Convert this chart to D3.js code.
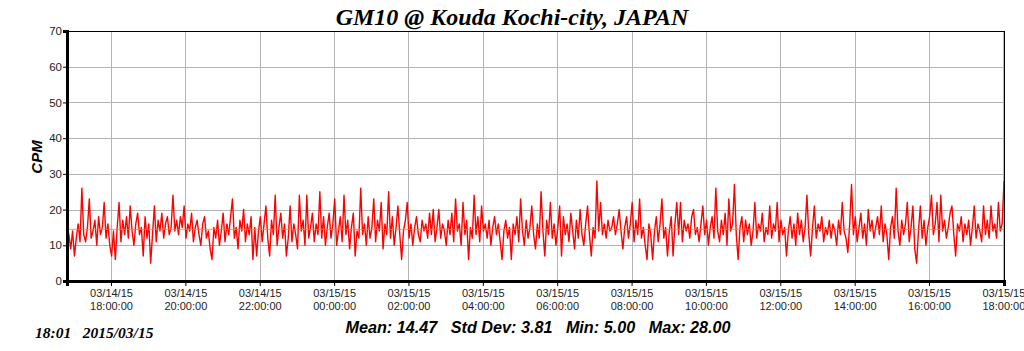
<!DOCTYPE html>
<html>
<head>
<meta charset="utf-8">
<script src="https://cdn.jsdelivr.net/npm/d3@7"></script>
<style>
  html, body { margin: 0; padding: 0; background: #fff; }
  svg { display: block; }
</style>
</head>
<body>
<svg id="chart" width="1024" height="351"></svg>
<script>
// readings every 3 minutes, starting 03/14/15 16:49
const startTime = new Date(2015, 2, 14, 16, 49);
const endTime = new Date(2015, 2, 15, 18, 1);
const stepMinutes = 3;
const cpm = [
  15, 13, 9, 14, 7, 12, 16, 11, 26, 13, 11, 15, 23, 12, 14, 17, 10, 18, 13, 15,
  22, 12, 16, 10, 7, 14, 6, 15, 22, 11, 17, 13, 18, 12, 21, 14, 10, 16, 19, 13,
  15, 7, 18, 12, 16, 5, 13, 21, 11, 17, 14, 19, 12, 16, 18, 13, 15, 24, 14, 17,
  13, 18, 15, 21, 12, 16, 14, 19, 11, 15, 17, 13, 10, 16, 18, 12, 14, 9, 6, 15,
  12, 17, 10, 14, 19, 11, 16, 13, 18, 23, 12, 15, 9, 17, 14, 20, 11, 16, 13, 18,
  6, 15, 7, 14, 18, 11, 16, 21, 12, 7, 17, 13, 24, 10, 15, 19, 12, 16, 7, 12,
  21, 11, 16, 13, 9, 24, 14, 17, 10, 24, 12, 15, 19, 11, 16, 13, 25, 12, 18, 10,
  15, 19, 12, 16, 23, 10, 14, 18, 11, 24, 13, 17, 9, 15, 19, 7, 14, 12, 26, 13,
  16, 10, 18, 12, 15, 23, 11, 17, 14, 22, 9, 16, 13, 25, 12, 18, 10, 15, 21, 13,
  6, 14, 17, 22, 12, 16, 10, 15, 18, 13, 11, 17, 14, 16, 12, 19, 13, 20, 11, 15,
  20, 12, 16, 14, 10, 17, 13, 19, 11, 23, 14, 16, 10, 22, 13, 17, 6, 15, 12, 24,
  13, 18, 11, 21, 14, 16, 12, 17, 10, 15, 18, 13, 16, 11, 6, 14, 17, 12, 15, 6,
  16, 13, 18, 11, 23, 14, 10, 17, 12, 15, 21, 13, 9, 16, 12, 25, 14, 7, 17, 13,
  22, 12, 16, 10, 15, 21, 7, 18, 13, 16, 11, 19, 14, 9, 17, 12, 20, 13, 10, 16,
  21, 13, 7, 15, 12, 28, 14, 22, 13, 16, 12, 17, 14, 15, 18, 13, 16, 20, 14, 9,
  15, 18, 12, 16, 22, 11, 17, 13, 23, 12, 15, 10, 6, 16, 13, 6, 14, 18, 11, 16,
  23, 12, 15, 7, 14, 18, 7, 16, 22, 13, 22, 11, 17, 14, 16, 12, 18, 20, 13, 15,
  11, 16, 21, 13, 17, 10, 15, 18, 12, 26, 14, 11, 17, 13, 19, 10, 23, 14, 16, 27,
  13, 6, 15, 18, 11, 17, 13, 16, 10, 14, 22, 12, 16, 14, 19, 11, 15, 13, 21, 12,
  16, 14, 22, 11, 17, 13, 15, 7, 14, 18, 12, 16, 10, 19, 13, 17, 11, 15, 24, 13,
  7, 15, 21, 12, 16, 14, 18, 11, 15, 13, 17, 12, 16, 14, 10, 17, 13, 22, 14, 12,
  8, 16, 27, 13, 18, 11, 15, 19, 12, 16, 10, 20, 14, 17, 12, 15, 18, 13, 21, 11,
  16, 13, 6, 15, 18, 12, 26, 14, 10, 17, 13, 16, 22, 11, 15, 21, 9, 5, 14, 21,
  12, 17, 10, 15, 18, 24, 13, 16, 22, 11, 24, 14, 17, 12, 15, 19, 21, 13, 7, 16,
  14, 18, 11, 16, 13, 17, 10, 15, 21, 12, 16, 14, 11, 21, 13, 17, 12, 21, 14, 16,
  12, 22, 14, 16, 28
];
const meanValue = 14.47;
const yTicks = [0, 10, 20, 30, 40, 50, 60, 70];
const statsLabels = ['Mean: 14.47', 'Std Dev: 3.81', 'Min: 5.00', 'Max: 28.00'];
const titleText = 'GM10 @ Kouda Kochi-city, JAPAN';
const stampText = '18:01   2015/03/15';

const svg = d3.select('#chart');
const plotLeft = 67, plotRight = 1004, plotTop = 31, plotBottom = 281;

const x = d3.scaleTime().domain([startTime, endTime]).range([plotLeft, plotRight]);
const y = d3.scaleLinear().domain([0, 70]).range([plotBottom, plotTop]);

const points = cpm.map((v, i) => ({t: new Date(startTime.getTime() + i * stepMinutes * 60000), v: v}));
const xTicks = d3.timeHour.every(2).range(new Date(2015, 2, 14, 18, 0), new Date(2015, 2, 15, 18, 1));

// grid
svg.append('g')
  .selectAll('line')
  .data(yTicks)
  .join('line')
    .attr('x1', plotLeft).attr('x2', plotRight)
    .attr('y1', d => Math.round(y(d)) + 0.5).attr('y2', d => Math.round(y(d)) + 0.5)
    .attr('stroke', '#b4b4b4');
svg.append('g')
  .selectAll('line')
  .data(xTicks)
  .join('line')
    .attr('x1', d => Math.round(x(d)) + 0.5).attr('x2', d => Math.round(x(d)) + 0.5)
    .attr('y1', plotTop).attr('y2', plotBottom)
    .attr('stroke', '#b4b4b4');

// data line
svg.append('path')
  .datum(points)
  .attr('fill', 'none')
  .attr('stroke', '#ff0000')
  .attr('stroke-width', 1.4)
  .attr('stroke-linejoin', 'round')
  .attr('d', d3.line().x(d => x(d.t)).y(d => y(d.v)));

// mean line
svg.append('line')
  .attr('x1', plotLeft).attr('x2', plotRight)
  .attr('y1', y(meanValue)).attr('y2', y(meanValue))
  .attr('stroke', '#c8a000')
  .attr('stroke-opacity', 0.8);

// frame
svg.append('line').attr('x1', plotLeft).attr('x2', plotRight).attr('y1', plotTop + 0.5).attr('y2', plotTop + 0.5).attr('stroke', '#000');
svg.append('line').attr('x1', plotRight + 0.5).attr('x2', plotRight + 0.5).attr('y1', plotTop).attr('y2', plotBottom).attr('stroke', '#000');

// axes
const yAxis = svg.append('g')
  .attr('transform', `translate(${plotLeft},0)`)
  .call(d3.axisLeft(y).tickValues(yTicks).tickSize(4).tickPadding(1));
yAxis.select('.domain').attr('stroke-width', 3);
yAxis.selectAll('text').attr('font-family', 'Liberation Sans, Arial, sans-serif').attr('font-size', 11.5).attr('fill', '#222');

const xAxis = svg.append('g')
  .attr('transform', `translate(0,${plotBottom})`)
  .call(d3.axisBottom(x).tickValues(xTicks).tickSize(5).tickFormat(''));
xAxis.select('.domain').attr('stroke-width', 3);
const fmtDate = d3.timeFormat('%m/%d/%y');
const fmtTime = d3.timeFormat('%H:%M:%S');
xAxis.selectAll('.tick').each(function(d) {
  const t = d3.select(this).append('text')
    .attr('fill', '#222')
    .attr('font-family', 'Liberation Sans, Arial, sans-serif')
    .attr('font-size', 11)
    .attr('text-anchor', 'middle');
  t.append('tspan').attr('x', 0).attr('y', 16).text(fmtDate(d));
  t.append('tspan').attr('x', 0).attr('y', 29).text(fmtTime(d));
});

// texts
svg.append('text')
  .attr('x', 512).attr('y', 25)
  .attr('text-anchor', 'middle')
  .attr('font-family', 'Liberation Serif, Times New Roman, serif')
  .attr('font-weight', 'bold').attr('font-style', 'italic')
  .attr('font-size', 24)
  .text(titleText);

svg.append('text')
  .attr('transform', 'translate(42,157) rotate(-90)')
  .attr('text-anchor', 'middle')
  .attr('font-family', 'Liberation Sans, Arial, sans-serif')
  .attr('font-weight', 'bold').attr('font-style', 'italic')
  .attr('font-size', 15)
  .text('CPM');

svg.append('text')
  .attr('x', 35).attr('y', 338)
  .attr('font-family', 'Liberation Serif, Times New Roman, serif')
  .attr('font-weight', 'bold').attr('font-style', 'italic')
  .attr('font-size', 15.5)
  .style('white-space', 'pre')
  .text(stampText);

svg.append('text')
  .attr('x', 538).attr('y', 333)
  .attr('text-anchor', 'middle')
  .attr('font-family', 'Liberation Sans, Arial, sans-serif')
  .attr('font-weight', 'bold').attr('font-style', 'italic')
  .attr('font-size', 16.2)
  .style('white-space', 'pre')
  .text(statsLabels.join('   '));
</script>
</body>
</html>
